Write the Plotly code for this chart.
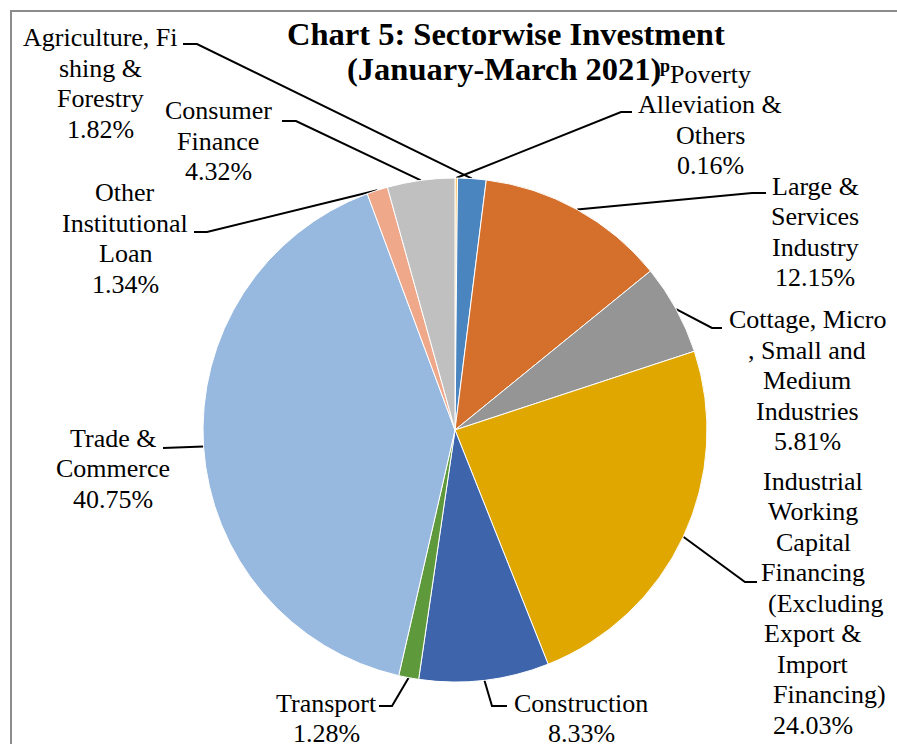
import math
import plotly.graph_objects as go


# ─── Data ──────────────────────────────────────────────────────────────────────
SECTORS = [
    "Poverty Alleviation & Others",
    "Agriculture, Fishing & Forestry",
    "Large & Services Industry",
    "Cottage, Micro, Small and Medium Industries",
    "Industrial Working Capital Financing (Excluding Export & Import Financing)",
    "Construction",
    "Transport",
    "Trade & Commerce",
    "Other Institutional Loan",
    "Consumer Finance",
]
SHARES = [0.16, 1.82, 12.15, 5.81, 24.03, 8.33, 1.28, 40.75, 1.34, 4.32]

# label text wrapped the way the source chart wraps it
LABEL_LINES = [
    ["Poverty", "Alleviation &", "Others"],
    ["Agriculture, Fi", "shing &", "Forestry"],
    ["Large &", "Services", "Industry"],
    ["Cottage, Micro", ", Small and", "Medium", "Industries"],
    ["Industrial", "Working", "Capital", "Financing", "(Excluding", "Export &",
     "Import", "Financing)"],
    ["Construction"],
    ["Transport"],
    ["Trade &", "Commerce"],
    ["Other", "Institutional", "Loan"],
    ["Consumer", "Finance"],
]

TITLE_1 = "Chart 5: Sectorwise Investment"
TITLE_2 = "(January-March 2021)"
TITLE_SUP = "p"

# ─── Style ─────────────────────────────────────────────────────────────────────
COLORS = ["#F7C46C", "#4A85C0", "#D46F2C", "#959595", "#E0A700",
          "#3E64AB", "#5E9A3B", "#97B8DF", "#F0A88B", "#C0C0C0"]
FONT = "Liberation Serif, Times New Roman, serif"
W, H = 897, 744
CX, CY, R = 455, 430, 252        # pie centre / radius in px
FS = 26                          # label font size
LH = 30.5                        # label line height
MID = 0.34 * FS                  # baseline -> middle of text box

# label block: centre x, first baseline y
LABEL_POS = [(710, 83), (100, 46.5), (815, 195), (807, 328.5), (813, 490),
             (581, 712), (326, 712), (113, 447), (125, 201.5), (218, 119.5)]
# some wrapped lines sit off-centre in the source
LINE_SHIFT = {(4, 4): 13, (4, 7): 16}
# leader lines: elbow point, end point at the label
LEADERS = [((621, 112), (632, 112)), ((197, 44), (183, 44)),
           ((752, 193), (766, 193)), ((712, 328), (722, 328)),
           ((745, 582), (757, 582)), ((492, 706), (507, 706)),
           ((392, 706), (379, 706)), ((176, 448), (163, 448)),
           ((207, 232), (194, 232)), ((296, 121), (282, 121))]

fig = go.Figure()

fig.add_trace(go.Pie(
    labels=SECTORS, values=SHARES, sort=False, direction="clockwise",
    rotation=0, textinfo="none", hoverinfo="label+percent",
    marker=dict(colors=COLORS, line=dict(color="white", width=1)),
    domain=dict(x=[(CX - R) / W, (CX + R) / W],
                y=[1 - (CY + R) / H, 1 - (CY - R) / H]),
    showlegend=False,
))

# leader lines from the middle of each slice
total = sum(SHARES)
xs, ys = [], []
cum = 0
for share, (elbow, end) in zip(SHARES, LEADERS):
    a = (cum + share / 2) / total * 2 * math.pi
    cum += share
    xs += [CX + R * math.sin(a), elbow[0], end[0], None]
    ys += [CY - R * math.cos(a), elbow[1], end[1], None]
fig.add_trace(go.Scatter(x=xs, y=ys, mode="lines", hoverinfo="skip",
                         line=dict(color="black", width=2), showlegend=False))

annotations = []
for i, (lines, share) in enumerate(zip(LABEL_LINES, SHARES)):
    x0, b0 = LABEL_POS[i]
    for j, txt in enumerate(lines + [f"{share:.2f}%"]):
        annotations.append(dict(
            x=x0 + LINE_SHIFT.get((i, j), 0), y=b0 + j * LH - MID,
            xref="x", yref="y", text=txt, showarrow=False,
            xanchor="center", yanchor="middle",
            font=dict(family=FONT, size=FS, color="black")))

annotations += [
    dict(x=506, y=45 - 0.34 * 32, text=f"<b>{TITLE_1}</b>"),
    dict(x=504, y=80 - 0.34 * 32, text=f"<b>{TITLE_2}</b>"),
]
for a in annotations[-2:]:
    a.update(xref="x", yref="y", showarrow=False, xanchor="center",
             yanchor="middle", font=dict(family=FONT, size=32.5, color="black"))
annotations.append(dict(x=658, y=72 - 0.34 * 18, text=f"<b>{TITLE_SUP}</b>",
                        xref="x", yref="y", showarrow=False, xanchor="left",
                        yanchor="middle",
                        font=dict(family=FONT, size=18, color="black")))

fig.update_layout(
    width=W, height=H,
    margin=dict(l=0, r=0, t=0, b=0),
    paper_bgcolor="white", plot_bgcolor="white",
    xaxis=dict(range=[0, W], visible=False, fixedrange=True, domain=[0, 1]),
    yaxis=dict(range=[H, 0], visible=False, fixedrange=True, domain=[0, 1]),
    annotations=annotations,
    shapes=[dict(type="rect", xref="x", yref="y", x0=11, y0=11,
                 x1=W + 20, y1=H + 20, layer="below",
                 line=dict(color="#8c8c8c", width=2))],
)

# the page's default body margin would shift the chart by 8px
fig.write_html("out.html", config={"displayModeBar": False},
               post_script="document.body.style.margin='0';"
                           "document.body.style.overflow='hidden';")
